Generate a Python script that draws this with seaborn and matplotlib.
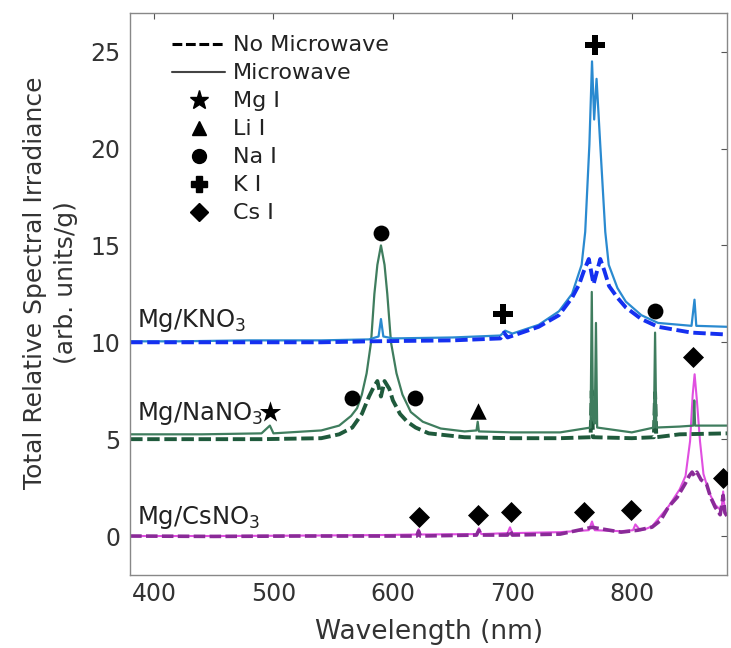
import numpy as np
import pandas as pd
import matplotlib
matplotlib.use("Agg")
import matplotlib.pyplot as plt
from matplotlib.lines import Line2D
import seaborn as sns

# ---------------- data ----------------
# Mg/KNO3, microwave (solid)
k_mw_wl = [380, 420, 480, 540, 580, 588, 590, 592, 600, 650, 690, 694, 700, 722, 739, 750,
           758, 761, 764.5, 766.7, 768.5, 770.5, 773.6, 777.8, 780.7, 788, 795, 808, 822,
           850, 852.5, 854, 880]
k_mw_val = [10.05, 10.05, 10.1, 10.1, 10.15, 10.3, 11.2, 10.3, 10.2, 10.25, 10.35, 10.6, 10.45,
            10.9, 11.6, 12.5, 14.0, 15.7, 20.2, 24.5, 21.5, 23.6, 20.2, 15.7, 14.0, 12.8, 12.1,
            11.4, 11.0, 10.85, 12.2, 10.85, 10.8]

# Mg/KNO3, no microwave (dashed)
k_no_wl = [380, 420, 480, 540, 580, 650, 690, 693, 696, 722, 739, 750, 756, 760, 764, 768,
           773.6, 777, 781, 788, 795, 808, 822, 850, 880]
k_no_val = [10.0, 10.0, 10.0, 10.0, 10.05, 10.1, 10.2, 10.5, 10.25, 10.8, 11.4, 12.3, 13.0,
            13.7, 14.3, 13.0, 14.3, 13.7, 12.9, 12.3, 11.8, 11.2, 10.8, 10.5, 10.4]

# Mg/NaNO3, microwave (solid)
na_mw_wl = [380, 440, 490, 497, 500, 540, 555, 565, 570, 574, 578, 581.7, 584.5, 587, 590,
            593, 595.3, 598.4, 603, 608, 615, 625, 640, 660, 670, 671, 672, 700, 740, 765.5,
            766.5, 767.5, 769, 770, 771, 800, 818.5, 819.5, 820.5, 840, 851.5, 852.3, 853,
            865, 880]
na_mw_val = [5.25, 5.25, 5.3, 5.7, 5.3, 5.45, 5.7, 6.2, 6.6, 7.3, 8.4, 10.0, 12.5, 14.0, 15.0,
             14.0, 12.5, 10.0, 8.4, 7.3, 6.4, 5.9, 5.55, 5.4, 5.45, 5.9, 5.4, 5.35, 5.35, 5.6,
             12.6, 6.0, 5.8, 11.0, 5.6, 5.35, 5.6, 10.5, 5.6, 5.65, 5.7, 7.0, 5.7, 5.7, 5.7]

# Mg/NaNO3, no microwave (dashed)
na_no_wl = [380, 440, 490, 540, 555, 566, 574, 580, 584, 587, 590, 593, 597, 600, 606, 612,
            619, 630, 660, 700, 740, 765.5, 766.5, 767.5, 800, 818.5, 819.5, 820.5, 840, 880]
na_no_val = [5.0, 5.0, 5.0, 5.05, 5.25, 5.6, 6.3, 7.2, 7.7, 8.0, 7.2, 8.0, 7.6, 7.0, 6.3, 5.9,
             5.6, 5.3, 5.1, 5.05, 5.05, 5.1, 7.5, 5.1, 5.05, 5.1, 7.4, 5.1, 5.25, 5.3]

# Mg/CsNO3, microwave (solid)
cs_mw_wl = [380, 450, 520, 590, 620, 621.5, 623, 670, 672, 674, 696, 698, 700, 740, 764,
            766.7, 769, 791, 801, 803, 807, 811, 817, 831, 840, 845, 848.8, 851, 852.6, 854.5,
            857.1, 860, 865, 870, 875, 876.5, 878, 880]
cs_mw_val = [0.0, 0.0, 0.02, 0.05, 0.08, 0.35, 0.08, 0.1, 0.4, 0.1, 0.15, 0.45, 0.15, 0.2, 0.3,
             0.75, 0.3, 0.25, 0.3, 0.6, 0.3, 0.35, 0.5, 1.55, 2.4, 3.1, 4.9, 7.3, 8.35, 7.0,
             4.9, 3.2, 2.2, 1.6, 1.3, 2.3, 1.2, 1.1]

# Mg/CsNO3, no microwave (dashed)
cs_no_wl = [380, 450, 520, 590, 620, 621.5, 623, 670, 672, 674, 696, 698, 700, 740, 766.7,
            791, 805, 817, 824, 830.7, 838, 844.7, 848, 850.5, 852.5, 854.5, 858, 862.5, 866,
            869.7, 874, 876.5, 878, 880]
cs_no_val = [0.0, -0.02, 0.0, 0.0, 0.0, 0.25, 0.0, 0.05, 0.3, 0.05, 0.05, 0.3, 0.05, 0.1, 0.45,
             0.2, 0.3, 0.46, 0.8, 1.5, 2.0, 2.7, 3.1, 3.3, 3.1, 3.3, 2.9, 2.7, 2.0, 1.5, 1.1,
             2.1, 1.2, 1.0]

# emission line markers
mg_wl, mg_val = [497.5], [6.4]
li_wl, li_val = [671.5], [6.45]
na_wl, na_val = [590, 565.5, 618.5, 819.5], [15.65, 7.1, 7.1, 11.6]
k_wl, k_val = [769, 692.5], [25.35, 11.45]
cs_wl, cs_val = [621.5, 671.5, 699, 760, 799, 851.5, 876.5], [0.97, 1.08, 1.23, 1.23, 1.33, 9.25, 2.97]

labels_txt = ["Mg/KNO$_3$", "Mg/NaNO$_3$", "Mg/CsNO$_3$"]
labels_y = [10.8, 6.0, 0.6]
xticks = [400, 500, 600, 700, 800]
yticks = [0, 5, 10, 15, 20, 25]

# ---------------- plotting ----------------
sns.set_theme(style="white")
plt.rcParams['font.family'] = ['DejaVu Sans']
plt.rcParams['mathtext.fontset'] = 'dejavusans'

fig = plt.figure(figsize=(7.31, 6.48), dpi=100)
ax = fig.add_axes([0.178, 0.113, 0.817, 0.867])

dash = (0, (3.2, 1.2))
series = [
    (cs_mw_wl, cs_mw_val, "#e04fe0", "-", 1.5),
    (cs_no_wl, cs_no_val, "#8a2a98", dash, 2.6),
    (na_no_wl, na_no_val, "#1f5a3c", dash, 2.8),
    (na_mw_wl, na_mw_val, "#3f7d5e", "-", 1.6),
    (k_mw_wl, k_mw_val, "#2a8ad0", "-", 1.6),
    (k_no_wl, k_no_val, "#1530f0", dash, 2.8),
]
for wl, val, col, ls, lw in series:
    sns.lineplot(x=wl, y=val, ax=ax, color=col, linestyle=ls, linewidth=lw,
                 errorbar=None, estimator=None, sort=False)

mk = dict(color="black", zorder=5, linewidth=0)
sns.scatterplot(x=mg_wl, y=mg_val, ax=ax, marker="*", s=260, **mk)
sns.scatterplot(x=li_wl, y=li_val, ax=ax, marker="^", s=140, **mk)
sns.scatterplot(x=na_wl, y=na_val, ax=ax, marker="o", s=130, **mk)
sns.scatterplot(x=k_wl, y=k_val, ax=ax, marker="P", s=190, **mk)
sns.scatterplot(x=cs_wl, y=cs_val, ax=ax, marker="D", s=115, **mk)

for t, yy in zip(labels_txt, labels_y):
    ax.text(385.5, yy, t, fontsize=17.5, color="#222222", ha="left", va="baseline")

ax.set_xlim(380, 880)
ax.set_ylim(-2, 27)
ax.set_xticks(xticks)
ax.set_yticks(yticks)
ax.tick_params(direction="in", length=4, width=0.8, colors="#555555",
               labelcolor="#333333", labelsize=17, top=True, right=True, pad=7)
ax.tick_params(axis="x", pad=5)
for s in ax.spines.values():
    s.set_color("#888888")
    s.set_linewidth(1.0)
ax.set_xlabel("Wavelength (nm)", fontsize=19, color="#333333", va="top")
ax.xaxis.set_label_coords(0.5, -0.078)
ax.set_ylabel("Total Relative Spectral Irradiance\n(arb. units/g)", fontsize=18,
              color="#333333", linespacing=1.35)
ax.yaxis.set_label_coords(-0.088, 0.52)

handles = [
    Line2D([], [], color="black", linestyle=dash, linewidth=2.2),
    Line2D([], [], color="#444444", linestyle="-", linewidth=1.5),
    Line2D([], [], color="black", marker="*", linestyle="none", markersize=14),
    Line2D([], [], color="black", marker="^", linestyle="none", markersize=10),
    Line2D([], [], color="black", marker="o", linestyle="none", markersize=10),
    Line2D([], [], color="black", marker="P", linestyle="none", markersize=12),
    Line2D([], [], color="black", marker="D", linestyle="none", markersize=9),
]
names = ["No Microwave", "Microwave", "Mg I", "Li I", "Na I", "K I", "Cs I"]
leg = ax.legend(handles, names, loc="upper left", bbox_to_anchor=(0.07, 0.96),
                frameon=False, fontsize=16, handlelength=2.4, handletextpad=0.35,
                labelspacing=0.36, borderaxespad=0.0, borderpad=0.0)
for t in leg.get_texts():
    t.set_color("#222222")

fig.savefig("out.png", dpi=100)
